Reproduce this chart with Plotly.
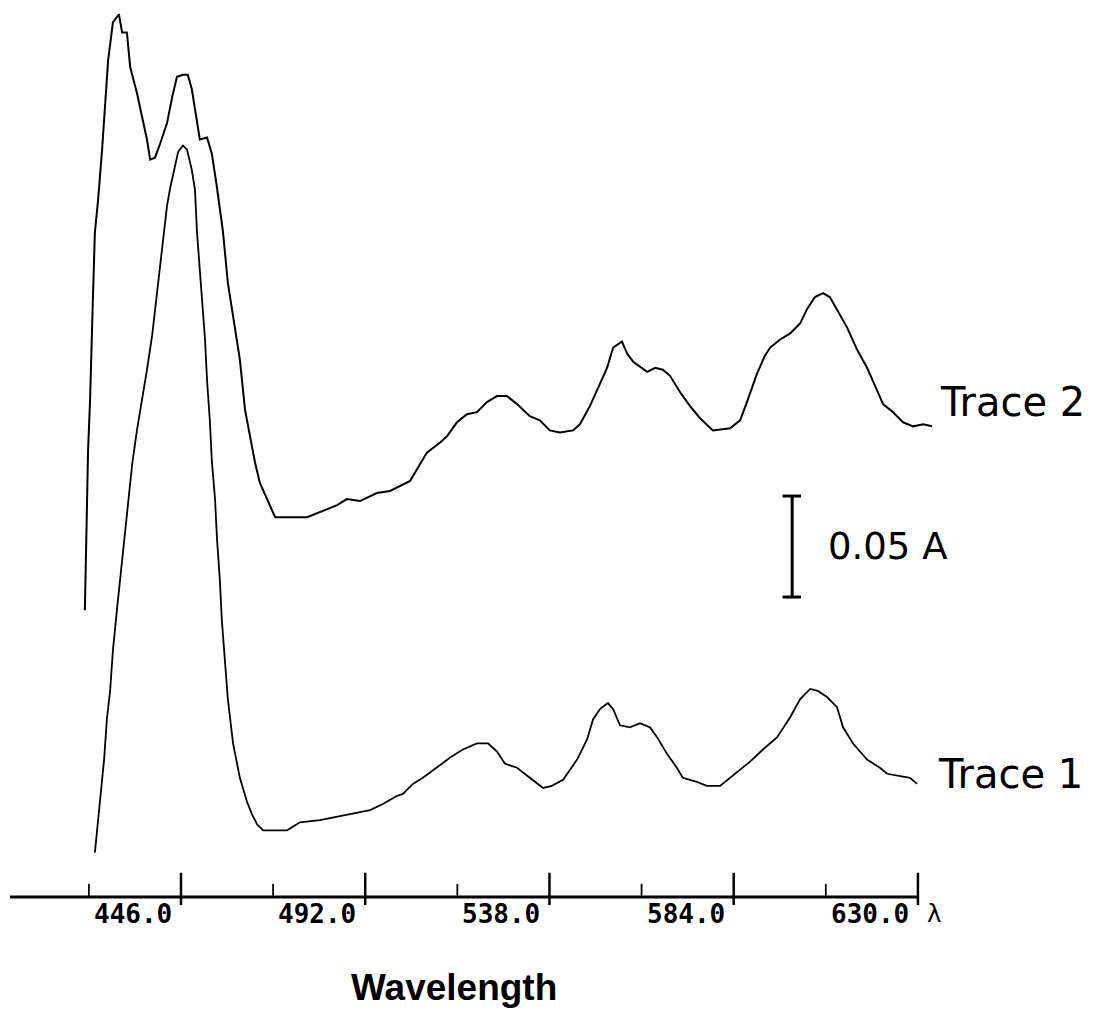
import plotly.graph_objects as go

# ---------------- data (wavelength in nm, absorbance in A) ----------------
trace2_wl = [422.0, 422.3, 422.5, 422.8, 423.3, 423.8, 424.0, 424.5, 425.3, 426.3,
             427.0, 427.8, 429.0, 430.5, 431.3, 432.5, 433.3, 435.0, 436.3, 437.5,
             438.3, 439.5, 440.8, 442.5, 443.8, 445.0, 446.5, 447.7, 448.7, 449.5,
             450.7, 452.5, 453.7, 455.0, 456.5, 457.7, 459.2, 460.7, 462.0, 463.2,
             464.5, 465.7, 467.5, 469.5, 477.5, 480.0, 485.0, 487.4, 490.7, 494.9,
             498.2, 503.2, 504.4, 505.7, 507.4, 510.7, 512.4, 514.9, 517.4, 519.9,
             522.4, 524.9, 527.4, 529.9, 533.1, 535.6, 538.1, 540.6, 543.9, 545.6,
             548.1, 550.6, 552.4, 553.9, 556.1, 557.4, 558.9, 562.4, 564.4, 566.3,
             568.1, 570.6, 573.1, 575.6, 578.8, 583.1, 585.6, 587.3, 588.6, 589.8,
             591.8, 593.1, 595.6, 598.1, 600.6, 602.3, 604.3, 606.3, 608.0, 609.8,
             612.3, 614.8, 617.3, 619.3, 621.3, 623.8, 626.3, 628.8, 631.3, 633.5]
trace2_abs = [0.142, 0.167, 0.197, 0.221, 0.246, 0.276, 0.296, 0.329, 0.345, 0.370,
              0.391, 0.414, 0.433, 0.437, 0.428, 0.428, 0.411, 0.398, 0.386, 0.375,
              0.365, 0.366, 0.373, 0.383, 0.396, 0.406, 0.407, 0.407, 0.400, 0.390,
              0.375, 0.376, 0.368, 0.351, 0.329, 0.304, 0.286, 0.266, 0.241, 0.228,
              0.215, 0.205, 0.197, 0.188, 0.188, 0.190, 0.194, 0.197, 0.196, 0.200,
              0.201, 0.206, 0.210, 0.215, 0.220, 0.225, 0.228, 0.235, 0.239, 0.240,
              0.245, 0.248, 0.248, 0.244, 0.238, 0.236, 0.231, 0.230, 0.231, 0.234,
              0.243, 0.254, 0.262, 0.272, 0.275, 0.269, 0.265, 0.260, 0.262, 0.261,
              0.258, 0.250, 0.243, 0.237, 0.231, 0.232, 0.236, 0.245, 0.252, 0.259,
              0.268, 0.272, 0.276, 0.279, 0.284, 0.291, 0.297, 0.299, 0.297, 0.291,
              0.282, 0.271, 0.262, 0.253, 0.244, 0.240, 0.235, 0.233, 0.234, 0.233]

trace1_wl = [424.5, 425.0, 425.8, 426.8, 427.5, 428.3, 429.0, 430.0, 430.8, 431.8,
             432.8, 433.8, 435.0, 436.3, 437.5, 438.8, 440.0, 440.8, 441.8, 442.5,
             443.3, 444.5, 445.3, 446.5, 447.5, 448.7, 449.5, 450.0, 450.7, 451.2,
             452.0, 452.5, 453.2, 453.7, 454.5, 455.0, 455.7, 456.2, 457.0, 457.7,
             459.0, 460.7, 462.5, 463.7, 465.0, 466.5, 472.5, 475.7, 480.7, 485.7,
             489.9, 493.2, 496.4, 499.9, 501.4, 503.9, 506.4, 509.9, 513.2, 516.4,
             519.9, 522.7, 524.9, 526.9, 529.9, 533.1, 536.4, 538.6, 541.4, 544.9,
             547.4, 548.9, 550.6, 552.6, 553.9, 555.6, 558.1, 560.6, 563.1, 564.9,
             567.3, 569.8, 571.3, 574.8, 577.3, 580.6, 583.1, 585.6, 588.1, 591.3,
             594.8, 598.1, 600.6, 603.1, 605.0, 607.3, 609.8, 611.3, 613.8, 617.3,
             620.5, 622.3, 625.5, 628.0, 629.8]
trace1_abs = [0.022, 0.033, 0.048, 0.068, 0.088, 0.102, 0.122, 0.142, 0.157, 0.177,
              0.197, 0.214, 0.231, 0.246, 0.261, 0.278, 0.299, 0.312, 0.328, 0.342,
              0.351, 0.361, 0.369, 0.372, 0.370, 0.360, 0.350, 0.329, 0.312, 0.299,
              0.276, 0.256, 0.236, 0.216, 0.197, 0.177, 0.157, 0.137, 0.117, 0.098,
              0.076, 0.059, 0.047, 0.041, 0.036, 0.033, 0.033, 0.037, 0.038, 0.040,
              0.042, 0.043, 0.046, 0.050, 0.051, 0.056, 0.059, 0.064, 0.069, 0.073,
              0.076, 0.076, 0.072, 0.066, 0.064, 0.059, 0.054, 0.055, 0.058, 0.068,
              0.078, 0.088, 0.093, 0.096, 0.093, 0.085, 0.084, 0.086, 0.084, 0.079,
              0.071, 0.064, 0.059, 0.057, 0.055, 0.055, 0.059, 0.063, 0.067, 0.073,
              0.079, 0.089, 0.098, 0.103, 0.102, 0.099, 0.094, 0.084, 0.076, 0.068,
              0.064, 0.061, 0.060, 0.059, 0.056]

major_ticks = [446.0, 492.0, 538.0, 584.0, 630.0]
major_tick_labels = ["446.0", "492.0", "538.0", "584.0", "630.0"]
minor_ticks = [423.0, 469.0, 515.0, 561.0, 607.0]
axis_start = 403.3

scale_bar_wl = 598.6
scale_bar_low = 0.1485
scale_bar_value = 0.05
scale_bar_label = "0.05 A"

series_labels = ["Trace 1", "Trace 2"]
series_label_pos = [(634.6, 0.061), (635.0, 0.245)]
x_title = "Wavelength"

# ---------------- figure ----------------
fig = go.Figure()
fig.add_trace(go.Scatter(x=trace2_wl, y=trace2_abs, mode="lines",
                         line=dict(color="black", width=2), showlegend=False))
fig.add_trace(go.Scatter(x=trace1_wl, y=trace1_abs, mode="lines",
                         line=dict(color="black", width=1.8), showlegend=False))

shapes = []
# baseline axis
shapes.append(dict(type="line", xref="x", yref="y", x0=axis_start, x1=major_ticks[-1],
                   y0=0, y1=0, line=dict(color="black", width=3)))
for t in major_ticks:
    shapes.append(dict(type="line", xref="x", yref="y", x0=t, x1=t, y0=-0.004, y1=0.012,
                       line=dict(color="black", width=2.5)))
for t in minor_ticks:
    shapes.append(dict(type="line", xref="x", yref="y", x0=t, x1=t, y0=0, y1=0.0065,
                       line=dict(color="black", width=1.8)))
# scale bar
top = scale_bar_low + scale_bar_value
shapes.append(dict(type="line", xref="x", yref="y", x0=scale_bar_wl, x1=scale_bar_wl,
                   y0=scale_bar_low, y1=top, line=dict(color="black", width=3)))
for yy in (scale_bar_low, top):
    shapes.append(dict(type="line", xref="x", yref="y", x0=scale_bar_wl - 2.4,
                       x1=scale_bar_wl + 2.2, y0=yy, y1=yy, line=dict(color="black", width=3)))

annotations = []
for t, lab in zip(major_ticks, major_tick_labels):
    annotations.append(dict(x=t, y=-0.0085, xref="x", yref="y", text="<b>" + lab + "</b>",
                            showarrow=False, xanchor="right", yanchor="middle", xshift=-7,
                            font=dict(family="DejaVu Sans Mono", size=26, color="black")))
annotations.append(dict(x=major_ticks[-1], y=-0.0085, xref="x", yref="y", text="λ",
                        showarrow=False, xanchor="left", yanchor="middle", xshift=7,
                        font=dict(family="DejaVu Sans Mono", size=24, color="black")))
annotations.append(dict(x=scale_bar_wl, y=scale_bar_low + scale_bar_value / 2, xref="x",
                        yref="y", text=scale_bar_label, showarrow=False, xanchor="left",
                        yanchor="middle", xshift=34,
                        font=dict(family="DejaVu Sans", size=37, color="black")))
for lab, (lx, ly) in zip(series_labels, series_label_pos):
    annotations.append(dict(x=lx, y=ly, xref="x", yref="y", text=lab, showarrow=False,
                            xanchor="left", yanchor="middle",
                            font=dict(family="DejaVu Sans", size=40, color="black")))
annotations.append(dict(x=514.2, y=-0.045, xref="x", yref="y", text="<b>" + x_title + "</b>",
                        showarrow=False, xanchor="center", yanchor="middle",
                        font=dict(family="Liberation Sans", size=37, color="black")))

fig.update_layout(
    width=1104, height=1015,
    margin=dict(l=0, r=0, t=0, b=0),
    paper_bgcolor="white", plot_bgcolor="white",
    xaxis=dict(range=[400.81, 676.46], visible=False, fixedrange=True),
    yaxis=dict(range=[-0.05842, 0.44406], visible=False, fixedrange=True),
    shapes=shapes, annotations=annotations,
    showlegend=False,
)

fig.write_html("out.html", config={"displayModeBar": False})
